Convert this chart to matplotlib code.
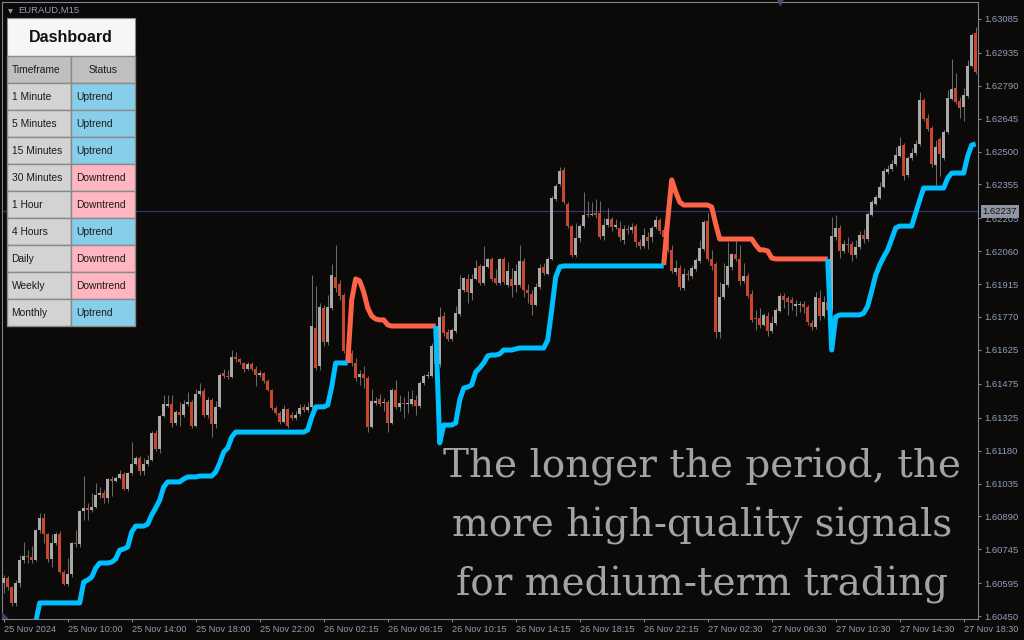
import numpy as np
import matplotlib.pyplot as plt
from matplotlib.patches import Rectangle, Polygon
from matplotlib.transforms import blended_transform_factory

plt.rcParams['font.family'] = ['Liberation Sans', 'DejaVu Sans']

# EURAUD M15, 25-27 Nov 2024
open_ = [
    1.60596, 1.60618, 1.60578, 1.60508, 1.60596, 1.60697, 1.60715, 1.60711, 1.60697, 1.60830,
    1.60883, 1.60812, 1.60702, 1.60772, 1.60812, 1.60644, 1.60591, 1.60636, 1.60772, 1.60768,
    1.60914, 1.60927, 1.60918, 1.60931, 1.60984, 1.60993, 1.60971, 1.61055, 1.61046, 1.61059,
    1.61077, 1.61011, 1.61081, 1.61121, 1.61148, 1.61090, 1.61121, 1.61139, 1.61258, 1.61187,
    1.61333, 1.61377, 1.61386, 1.61302, 1.61351, 1.61337, 1.61386, 1.61395, 1.61289, 1.61430,
    1.61443, 1.61337, 1.61403, 1.61298, 1.61373, 1.61523, 1.61509, 1.61505, 1.61593, 1.61584,
    1.61567, 1.61540, 1.61562, 1.61540, 1.61514, 1.61523, 1.61487, 1.61448, 1.61368, 1.61346,
    1.61306, 1.61364, 1.61337, 1.61324, 1.61342, 1.61373, 1.61359, 1.61373, 1.61721, 1.61554,
    1.61810, 1.61659, 1.61810, 1.61946, 1.61916, 1.61867, 1.61624, 1.61611, 1.61567, 1.61505,
    1.61518, 1.61501, 1.61284, 1.61390, 1.61408, 1.61390, 1.61395, 1.61302, 1.61448, 1.61373,
    1.61390, 1.61386, 1.61386, 1.61403, 1.61377, 1.61479, 1.61509, 1.61509, 1.61642, 1.61562,
    1.61774, 1.61704, 1.61673, 1.61708, 1.61783, 1.61889, 1.61938, 1.61876, 1.61938, 1.61995,
    1.61920, 1.61991, 1.62026, 1.61942, 1.61920, 1.62026, 1.61911, 1.61938, 1.61911, 1.61911,
    1.62017, 1.61889, 1.61871, 1.61823, 1.61902, 1.61991, 1.61960, 1.62026, 1.62291, 1.62357,
    1.62419, 1.62269, 1.62171, 1.62043, 1.62118, 1.62171, 1.62224, 1.62220, 1.62229, 1.62229,
    1.62127, 1.62176, 1.62202, 1.62167, 1.62163, 1.62110, 1.62158, 1.62154, 1.62171, 1.62101,
    1.62083, 1.62123, 1.62123, 1.62167, 1.62198, 1.62154, 1.62123, 1.62066, 1.61968, 1.61986,
    1.61898, 1.61960, 1.61951, 1.61982, 1.62017, 1.62070, 1.62194, 1.62026, 1.62004, 1.61704,
    1.61858, 1.61911, 1.61991, 1.62048, 1.62026, 1.61929, 1.61951, 1.61871, 1.61765, 1.61765,
    1.61735, 1.61774, 1.61708, 1.61743, 1.61796, 1.61862, 1.61854, 1.61845, 1.61818, 1.61823,
    1.61827, 1.61814, 1.61743, 1.61726, 1.61854, 1.61774, 1.61836, 1.61801, 1.62123, 1.62163,
    1.62061, 1.62092, 1.62092, 1.62043, 1.62079, 1.62132, 1.62114, 1.62220, 1.62269, 1.62295,
    1.62344, 1.62410, 1.62423, 1.62445, 1.62480, 1.62529, 1.62397, 1.62472, 1.62494, 1.62533,
    1.62728, 1.62648, 1.62604, 1.62441, 1.62556, 1.62472, 1.62586, 1.62732, 1.62781, 1.62723,
    1.62697, 1.62745, 1.62878, 1.63023,
]
high = [
    1.60631, 1.60627, 1.60583, 1.60609, 1.60719, 1.60777, 1.60741, 1.60759, 1.60834, 1.60905,
    1.60905, 1.60816, 1.60812, 1.60821, 1.60825, 1.60653, 1.60706, 1.60777, 1.60830, 1.60918,
    1.61068, 1.60949, 1.60993, 1.61037, 1.61020, 1.61006, 1.61059, 1.61068, 1.61068, 1.61095,
    1.61086, 1.61086, 1.61218, 1.61156, 1.61156, 1.61148, 1.61161, 1.61267, 1.61271, 1.61337,
    1.61426, 1.61426, 1.61426, 1.61359, 1.61395, 1.61403, 1.61439, 1.61403, 1.61452, 1.61479,
    1.61456, 1.61417, 1.61412, 1.61399, 1.61523, 1.61540, 1.61536, 1.61624, 1.61615, 1.61589,
    1.61571, 1.61571, 1.61571, 1.61554, 1.61536, 1.61527, 1.61496, 1.61452, 1.61377, 1.61355,
    1.61381, 1.61368, 1.61351, 1.61355, 1.61386, 1.61386, 1.61395, 1.61955, 1.61907, 1.61832,
    1.61823, 1.61867, 1.62004, 1.62088, 1.61933, 1.61876, 1.61642, 1.61624, 1.61589, 1.61536,
    1.61554, 1.61509, 1.61452, 1.61417, 1.61430, 1.61412, 1.61403, 1.61456, 1.61492, 1.61426,
    1.61417, 1.61443, 1.61448, 1.61426, 1.61487, 1.61518, 1.61531, 1.61655, 1.61664, 1.61814,
    1.61792, 1.61717, 1.61721, 1.61818, 1.61955, 1.61946, 1.61960, 1.61960, 1.62021, 1.62004,
    1.62083, 1.62030, 1.62035, 1.61982, 1.62030, 1.62035, 1.62013, 1.61986, 1.62004, 1.62088,
    1.62030, 1.61916, 1.61889, 1.61920, 1.62004, 1.62008, 1.62035, 1.62304, 1.62357, 1.62432,
    1.62432, 1.62277, 1.62176, 1.62185, 1.62180, 1.62322, 1.62282, 1.62277, 1.62291, 1.62282,
    1.62207, 1.62251, 1.62211, 1.62202, 1.62194, 1.62176, 1.62176, 1.62185, 1.62180, 1.62114,
    1.62163, 1.62145, 1.62171, 1.62216, 1.62207, 1.62167, 1.62141, 1.62088, 1.62021, 1.61999,
    1.61986, 1.61977, 1.61999, 1.62030, 1.62110, 1.62198, 1.62229, 1.62066, 1.62013, 1.61924,
    1.62008, 1.62101, 1.62052, 1.62105, 1.62088, 1.62008, 1.61964, 1.61889, 1.61801, 1.61810,
    1.61787, 1.61792, 1.61774, 1.61810, 1.61876, 1.61876, 1.61862, 1.61858, 1.61845, 1.61840,
    1.61840, 1.61823, 1.61757, 1.61880, 1.61889, 1.61862, 1.61845, 1.62211, 1.62220, 1.62176,
    1.62110, 1.62123, 1.62105, 1.62110, 1.62149, 1.62158, 1.62233, 1.62286, 1.62308, 1.62366,
    1.62427, 1.62441, 1.62463, 1.62520, 1.62564, 1.62538, 1.62480, 1.62516, 1.62551, 1.62763,
    1.62736, 1.62666, 1.62613, 1.62551, 1.62564, 1.62595, 1.62772, 1.62909, 1.62847, 1.62741,
    1.62781, 1.62904, 1.63023, 1.63050,
]
low = [
    1.60552, 1.60565, 1.60494, 1.60494, 1.60578, 1.60684, 1.60684, 1.60684, 1.60693, 1.60816,
    1.60772, 1.60688, 1.60666, 1.60764, 1.60640, 1.60587, 1.60583, 1.60622, 1.60755, 1.60755,
    1.60874, 1.60874, 1.60909, 1.60927, 1.60971, 1.60949, 1.60949, 1.60980, 1.61042, 1.61055,
    1.61006, 1.61002, 1.61072, 1.61117, 1.61072, 1.61072, 1.61112, 1.61134, 1.61178, 1.61170,
    1.61328, 1.61373, 1.61284, 1.61293, 1.61289, 1.61328, 1.61377, 1.61280, 1.61284, 1.61421,
    1.61328, 1.61324, 1.61240, 1.61280, 1.61368, 1.61501, 1.61496, 1.61501, 1.61571, 1.61562,
    1.61527, 1.61536, 1.61531, 1.61465, 1.61505, 1.61479, 1.61443, 1.61359, 1.61337, 1.61298,
    1.61302, 1.61280, 1.61315, 1.61315, 1.61333, 1.61351, 1.61351, 1.61364, 1.61536, 1.61536,
    1.61642, 1.61646, 1.61801, 1.61880, 1.61845, 1.61611, 1.61580, 1.61554, 1.61487, 1.61470,
    1.61456, 1.61262, 1.61280, 1.61381, 1.61377, 1.61355, 1.61262, 1.61298, 1.61364, 1.61355,
    1.61324, 1.61346, 1.61377, 1.61337, 1.61368, 1.61470, 1.61501, 1.61505, 1.61527, 1.61549,
    1.61686, 1.61664, 1.61664, 1.61699, 1.61774, 1.61880, 1.61832, 1.61845, 1.61933, 1.61911,
    1.61911, 1.61986, 1.61929, 1.61911, 1.61911, 1.61916, 1.61902, 1.61858, 1.61880, 1.61902,
    1.61858, 1.61832, 1.61779, 1.61818, 1.61893, 1.61955, 1.61955, 1.62021, 1.62282, 1.62348,
    1.62269, 1.62163, 1.62035, 1.62035, 1.62101, 1.62163, 1.62211, 1.62216, 1.62207, 1.62114,
    1.62110, 1.62167, 1.62149, 1.62158, 1.62105, 1.62092, 1.62136, 1.62141, 1.62079, 1.62070,
    1.62074, 1.62070, 1.62101, 1.62158, 1.62136, 1.62110, 1.62057, 1.61964, 1.61955, 1.61889,
    1.61889, 1.61933, 1.61942, 1.61973, 1.62008, 1.62061, 1.62017, 1.61977, 1.61677, 1.61677,
    1.61849, 1.61902, 1.61977, 1.62017, 1.61911, 1.61920, 1.61854, 1.61748, 1.61712, 1.61721,
    1.61730, 1.61686, 1.61699, 1.61735, 1.61792, 1.61810, 1.61779, 1.61801, 1.61774, 1.61792,
    1.61787, 1.61735, 1.61712, 1.61717, 1.61757, 1.61765, 1.61757, 1.61792, 1.62110, 1.62030,
    1.62052, 1.62057, 1.62017, 1.62030, 1.62070, 1.62096, 1.62105, 1.62216, 1.62264, 1.62291,
    1.62339, 1.62401, 1.62414, 1.62436, 1.62476, 1.62375, 1.62388, 1.62463, 1.62485, 1.62525,
    1.62635, 1.62591, 1.62432, 1.62352, 1.62392, 1.62463, 1.62578, 1.62728, 1.62710, 1.62648,
    1.62635, 1.62736, 1.62873, 1.62842,
]
close = [
    1.60618, 1.60578, 1.60508, 1.60596, 1.60697, 1.60715, 1.60711, 1.60697, 1.60830, 1.60883,
    1.60812, 1.60702, 1.60772, 1.60812, 1.60644, 1.60591, 1.60636, 1.60772, 1.60768, 1.60914,
    1.60927, 1.60918, 1.60931, 1.60984, 1.60993, 1.60971, 1.61055, 1.61046, 1.61059, 1.61077,
    1.61011, 1.61081, 1.61121, 1.61148, 1.61090, 1.61121, 1.61139, 1.61258, 1.61187, 1.61333,
    1.61386, 1.61386, 1.61302, 1.61351, 1.61337, 1.61386, 1.61395, 1.61289, 1.61430, 1.61443,
    1.61337, 1.61403, 1.61298, 1.61373, 1.61514, 1.61509, 1.61505, 1.61593, 1.61584, 1.61571,
    1.61540, 1.61562, 1.61540, 1.61514, 1.61523, 1.61487, 1.61448, 1.61368, 1.61346, 1.61306,
    1.61364, 1.61289, 1.61324, 1.61337, 1.61368, 1.61359, 1.61373, 1.61730, 1.61545, 1.61814,
    1.61659, 1.61814, 1.61955, 1.61898, 1.61862, 1.61620, 1.61611, 1.61567, 1.61501, 1.61518,
    1.61501, 1.61284, 1.61399, 1.61399, 1.61386, 1.61390, 1.61302, 1.61448, 1.61373, 1.61390,
    1.61386, 1.61390, 1.61408, 1.61377, 1.61479, 1.61509, 1.61514, 1.61642, 1.61562, 1.61770,
    1.61699, 1.61673, 1.61712, 1.61787, 1.61893, 1.61942, 1.61880, 1.61938, 1.61986, 1.61920,
    1.61995, 1.62026, 1.61938, 1.61920, 1.62026, 1.61924, 1.61973, 1.61907, 1.61973, 1.62017,
    1.61889, 1.61876, 1.61823, 1.61902, 1.61986, 1.61964, 1.62026, 1.62295, 1.62348, 1.62414,
    1.62277, 1.62171, 1.62043, 1.62118, 1.62171, 1.62220, 1.62222, 1.62224, 1.62220, 1.62123,
    1.62176, 1.62202, 1.62167, 1.62176, 1.62123, 1.62158, 1.62154, 1.62167, 1.62101, 1.62083,
    1.62132, 1.62105, 1.62163, 1.62198, 1.62149, 1.62123, 1.62066, 1.61973, 1.61986, 1.61902,
    1.61960, 1.61955, 1.61986, 1.62021, 1.62074, 1.62189, 1.62026, 1.61995, 1.61704, 1.61858,
    1.61916, 1.61995, 1.62048, 1.62026, 1.61929, 1.61951, 1.61862, 1.61757, 1.61761, 1.61735,
    1.61779, 1.61708, 1.61743, 1.61801, 1.61862, 1.61845, 1.61836, 1.61832, 1.61827, 1.61827,
    1.61814, 1.61748, 1.61726, 1.61858, 1.61774, 1.61836, 1.61801, 1.62127, 1.62163, 1.62061,
    1.62092, 1.62088, 1.62043, 1.62079, 1.62132, 1.62114, 1.62224, 1.62277, 1.62299, 1.62344,
    1.62414, 1.62423, 1.62445, 1.62485, 1.62525, 1.62392, 1.62472, 1.62494, 1.62533, 1.62728,
    1.62644, 1.62600, 1.62445, 1.62520, 1.62489, 1.62586, 1.62736, 1.62776, 1.62719, 1.62692,
    1.62750, 1.62878, 1.63014, 1.62851,
]

# trend line pieces: (first bar, values)
up_segments = [
    (8, [1.60424, 1.60508, 1.60508, 1.60508, 1.60508, 1.60508, 1.60508, 1.60508, 1.60508, 1.60508,
         1.60508, 1.60508, 1.60600, 1.60609, 1.60622, 1.60662, 1.60684, 1.60684, 1.60684, 1.60688,
         1.60702, 1.60741, 1.60746, 1.60755, 1.60821, 1.60847, 1.60847, 1.60847, 1.60856, 1.60896,
         1.60927, 1.60962, 1.61020, 1.61042, 1.61042, 1.61042, 1.61042, 1.61055, 1.61064, 1.61064,
         1.61064, 1.61068, 1.61068, 1.61068, 1.61068, 1.61086, 1.61125, 1.61174, 1.61192, 1.61240,
         1.61262, 1.61262, 1.61262, 1.61262, 1.61262, 1.61262, 1.61262, 1.61262, 1.61262, 1.61262,
         1.61262, 1.61262, 1.61262, 1.61262, 1.61262, 1.61262, 1.61262, 1.61262, 1.61271, 1.61328,
         1.61373, 1.61373, 1.61373, 1.61381, 1.61461, 1.61567, 1.61567, 1.61567, 1.61567]),
    (108, [1.61730, 1.61214, 1.61293, 1.61293, 1.61293, 1.61302, 1.61403, 1.61456, 1.61461, 1.61470,
           1.61527, 1.61545, 1.61567, 1.61598, 1.61602, 1.61602, 1.61607, 1.61624, 1.61624, 1.61624,
           1.61629, 1.61633, 1.61633, 1.61633, 1.61633, 1.61633, 1.61633, 1.61633, 1.61668, 1.61801,
           1.61946, 1.61991, 1.61995, 1.61995, 1.61995, 1.61995, 1.61995, 1.61995, 1.61995, 1.61995,
           1.61995, 1.61995, 1.61995, 1.61995, 1.61995, 1.61995, 1.61995, 1.61995, 1.61995, 1.61995,
           1.61995, 1.61995, 1.61995, 1.61995, 1.61995, 1.61995, 1.61995, 1.61995]),
    (206, [1.62026, 1.61624, 1.61770, 1.61779, 1.61779, 1.61779, 1.61779, 1.61779, 1.61779, 1.61787,
           1.61818, 1.61885, 1.61955, 1.61999, 1.62035, 1.62066, 1.62114, 1.62163, 1.62171, 1.62171,
           1.62171, 1.62171, 1.62229, 1.62286, 1.62339, 1.62339, 1.62339, 1.62339, 1.62339, 1.62339,
           1.62383, 1.62405, 1.62405, 1.62405, 1.62405, 1.62480, 1.62529, 1.62533]),
]
down_segments = [
    (86, [1.61567, 1.61845, 1.61938, 1.61929, 1.61880, 1.61810, 1.61774, 1.61761, 1.61757, 1.61757,
          1.61735, 1.61730, 1.61730, 1.61730, 1.61730, 1.61730, 1.61730, 1.61730, 1.61730, 1.61730,
          1.61730, 1.61730, 1.61730]),
    (165, [1.61999, 1.62198, 1.62375, 1.62322, 1.62277, 1.62264, 1.62264, 1.62264, 1.62264, 1.62264,
           1.62264, 1.62264, 1.62255, 1.62180, 1.62114, 1.62114, 1.62114, 1.62114, 1.62114, 1.62114,
           1.62114, 1.62114, 1.62114, 1.62088, 1.62066, 1.62066, 1.62061, 1.62030, 1.62026, 1.62026,
           1.62026, 1.62026, 1.62026, 1.62026, 1.62026, 1.62026, 1.62026, 1.62026, 1.62026, 1.62026,
           1.62026, 1.62026]),
]

price_ticks = [1.63085, 1.62935, 1.62790, 1.62645, 1.62500, 1.62355, 1.62205, 1.62060, 1.61915,
               1.61770, 1.61625, 1.61475, 1.61325, 1.61180, 1.61035, 1.60890, 1.60745, 1.60595,
               1.60450]
time_labels = ['25 Nov 2024', '25 Nov 10:00', '25 Nov 14:00', '25 Nov 18:00', '25 Nov 22:00',
               '26 Nov 02:15', '26 Nov 06:15', '26 Nov 10:15', '26 Nov 14:15', '26 Nov 18:15',
               '26 Nov 22:15', '27 Nov 02:30', '27 Nov 06:30', '27 Nov 10:30', '27 Nov 14:30',
               '27 Nov 18:30']
bid = 1.62237

timeframes = ['1 Minute', '5 Minutes', '15 Minutes', '30 Minutes', '1 Hour', '4 Hours',
              'Daily', 'Weekly', 'Monthly']
statuses = ['Uptrend', 'Uptrend', 'Uptrend', 'Downtrend', 'Downtrend', 'Uptrend',
            'Downtrend', 'Downtrend', 'Uptrend']

message = ['The longer the period, the', 'more high-quality signals', 'for medium-term trading']

BG = '#0c0a08'
UP = '#a9a9a9'
DOWN = '#c8472f'
WICK = '#6a6a6a'
BLUE = '#00bfff'
ORANGE = '#ff6347'
AXIS = '#7d8494'
LABEL = '#8f9ebb'

fig = plt.figure(figsize=(10.24, 6.4), dpi=100, facecolor=BG)
ax = fig.add_axes([2 / 1024, 21 / 640, 976 / 1024, 617 / 640], facecolor=BG)

o = np.array(open_)
c = np.array(close)
h = np.array(high)
l = np.array(low)
x = np.arange(len(c))
rising = c >= o

# candles
ax.vlines(x, l, h, color=WICK, lw=0.75, zorder=2)
ax.bar(x, np.maximum(np.abs(c - o), 3e-5), bottom=np.minimum(o, c), width=0.72,
       color=np.where(rising, UP, DOWN), linewidth=0, zorder=3)

ax.axhline(bid, color='#34347c', lw=0.9, zorder=1)

# trend lines
for start, vals in down_segments:
    ax.plot(np.arange(start, start + len(vals)), vals, color=ORANGE, lw=3.6,
            solid_joinstyle='round', solid_capstyle='butt', zorder=4)
for start, vals in up_segments:
    ax.plot(np.arange(start, start + len(vals)), vals, color=BLUE, lw=3.6,
            solid_joinstyle='round', solid_capstyle='butt', zorder=5)

ax.set_xlim(-0.425, 243.575)
ax.set_ylim(1.60437, 1.63160)

ax.yaxis.tick_right()
ax.set_yticks(price_ticks)
ax.set_yticklabels([f'{v:.5f}' for v in price_ticks])
ax.set_xticks(x[::16])
ax.set_xticklabels(time_labels, ha='left')
ax.tick_params(axis='y', colors=AXIS, labelcolor=LABEL, length=2.5, width=0.8,
               pad=2, labelsize=6.8)
ax.tick_params(axis='x', colors=AXIS, labelcolor=LABEL, length=2.5, width=0.8,
               pad=1.5, labelsize=6.6)
for s in ax.spines.values():
    s.set_color(AXIS)
    s.set_linewidth(0.8)

trans = blended_transform_factory(ax.transAxes, ax.transData)
ax.text(1.0045, bid, f'{bid:.5f}', transform=trans, ha='left', va='center', fontsize=6.8,
        color='#111111', zorder=10, clip_on=False,
        bbox=dict(boxstyle='square,pad=0.2', fc='#8e95a2', ec='none'))

# overlay in pixel coordinates for the dashboard and caption
ov = fig.add_axes([0, 0, 1, 1], facecolor='none')
ov.set_xlim(0, 1024)
ov.set_ylim(640, 0)
ov.axis('off')

ov.plot(10, 10.5, marker='v', ms=3.5, color=LABEL, mec='none')
ov.text(18, 10.5, 'EURAUD,M15', ha='left', va='center', fontsize=6.8, color=LABEL)
ov.plot(780, 2, marker='v', ms=6, color='#474e6a', mec='none')
ov.add_patch(Polygon([(2, 612), (2, 619), (9, 619)], closed=True, fc='#3d4460', ec='none'))

X0, XM, X1 = 7, 70.5, 135
TOP, TITLE_H, ROW_H = 18, 38, 27
GRID = '#8a8a8a'
ov.add_patch(Rectangle((X0, TOP), X1 - X0, TITLE_H, fc='#f6f6f6', ec=GRID, lw=0.8))
ov.text((X0 + X1) / 2, TOP + TITLE_H / 2 + 1, 'Dashboard', ha='center', va='center',
        fontsize=11.5, fontweight='bold', color='#111111')

rows = [('Timeframe', 'Status')] + list(zip(timeframes, statuses))
for k, (tf, st) in enumerate(rows):
    y0 = TOP + TITLE_H + k * ROW_H
    if k == 0:
        lc, rc = '#c0c0c0', '#c0c0c0'
    else:
        lc = '#d3d3d3'
        rc = '#87ceeb' if st == 'Uptrend' else '#ffb6c1'
    ov.add_patch(Rectangle((X0, y0), XM - X0, ROW_H, fc=lc, ec=GRID, lw=1.0))
    ov.add_patch(Rectangle((XM, y0), X1 - XM, ROW_H, fc=rc, ec=GRID, lw=1.0))
    ov.text(X0 + 4.5, y0 + ROW_H / 2 + 0.5, tf, ha='left', va='center', fontsize=7.4,
            color='#1a1a1a')
    if k == 0:
        ov.text((XM + X1) / 2, y0 + ROW_H / 2 + 0.5, st, ha='center', va='center',
                fontsize=7.4, color='#1a1a1a')
    else:
        ov.text(XM + 6, y0 + ROW_H / 2 + 0.5, st, ha='left', va='center', fontsize=7.4,
                color='#1a1a1a')

for k, line in enumerate(message):
    ov.text(702, 478 + 58.5 * k, line, ha='center', va='baseline', fontsize=28,
            family='DejaVu Serif', color='#a3a3a3')

fig.savefig('out.png', dpi=100, facecolor=BG)
